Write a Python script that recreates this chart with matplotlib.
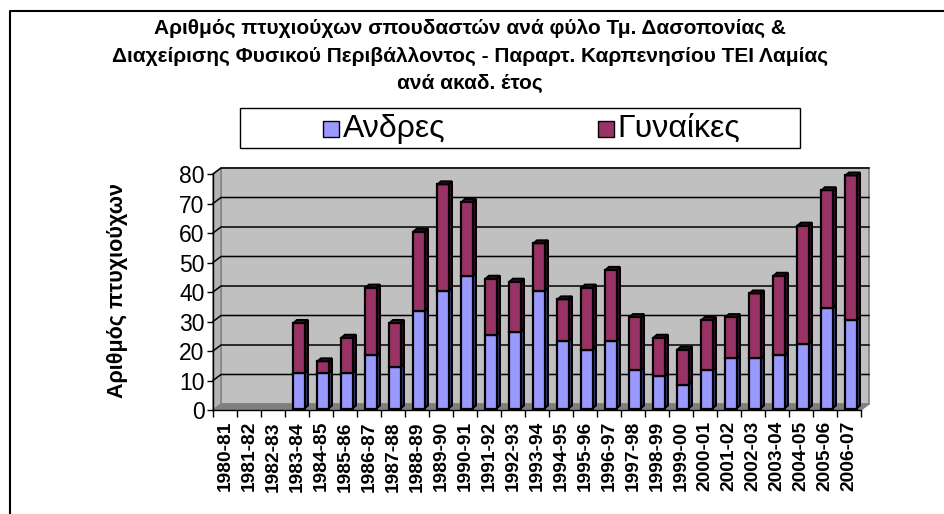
import matplotlib
matplotlib.use("Agg")
import matplotlib.pyplot as plt
from matplotlib.patches import Polygon, Rectangle
from matplotlib.transforms import IdentityTransform, Affine2D
from matplotlib.lines import Line2D

plt.rcParams['font.family'] = ['Liberation Sans', 'DejaVu Sans']

years = ["1980-81", "1981-82", "1982-83", "1983-84", "1984-85", "1985-86", "1986-87",
         "1987-88", "1988-89", "1989-90", "1990-91", "1991-92", "1992-93", "1993-94",
         "1994-95", "1995-96", "1996-97", "1997-98", "1998-99", "1999-00", "2000-01",
         "2001-02", "2002-03", "2003-04", "2004-05", "2005-06", "2006-07"]
andres = [0, 0, 0, 12, 12, 12, 18, 14, 33, 40, 45, 25, 26, 40, 23, 20, 23, 13, 11, 8,
          13, 17, 17, 18, 22, 34, 30]
gynaikes = [0, 0, 0, 17, 4, 12, 23, 15, 27, 36, 25, 19, 17, 16, 14, 21, 24, 18, 13, 12,
            17, 14, 22, 27, 40, 40, 49]
yticks = [0, 10, 20, 30, 40, 50, 60, 70, 80]
series_names = ["Ανδρες", "Γυναίκες"]

title_lines = ["Αριθμός πτυχιούχων σπουδαστών ανά φύλο Τμ. Δασοπονίας &",
               "Διαχείρισης Φυσικού Περιβάλλοντος - Παραρτ. Καρπενησίου ΤΕΙ Λαμίας",
               "ανά ακαδ. έτος"]
ylabel = "Αριθμός πτυχιούχων"

C_MEN = '#9999FF'
C_WOM = '#993366'
C_MEN_SIDE = '#3a3a70'
C_WOM_SIDE = '#3a1026'

W, H = 944, 514
fig = plt.figure(figsize=(W / 100, H / 100), dpi=100)
fig.patch.set_facecolor('white')


def fx(x):
    return x / W


def fy(y):
    return 1 - y / H


ax = fig.add_axes([213 / W, 1 - 410 / H, (861 - 213) / W, (410 - 174) / H])
n = len(years)
ax.set_xlim(0, n)
ax.set_ylim(0, 80)
ax.patch.set_visible(False)
for s in ['top', 'right']:
    ax.spines[s].set_visible(False)
for s in ['left', 'bottom']:
    ax.spines[s].set_color('black')
    ax.spines[s].set_linewidth(1.0)
    ax.spines[s].set_zorder(6)

ax.set_yticks(yticks)
ax.set_yticklabels([str(v) for v in yticks], fontsize=16.5)
ax.tick_params(axis='y', direction='out', length=4, width=1, pad=2)
ax.set_xticks(range(n + 1))
ax.set_xticklabels([])
ax.tick_params(axis='x', which='major', direction='out', length=5, width=1)
ax.set_xticks([i + 0.5 for i in range(n)], minor=True)
ax.set_xticklabels(years, minor=True, rotation=90, fontsize=13.8, fontweight='bold')
ax.tick_params(axis='x', which='minor', length=0, pad=8)

fig.text(fx(118), fy(290), ylabel, rotation=90, ha='center', va='center',
         fontsize=15.5, fontweight='bold')

fig.canvas.draw()
ID = IdentityTransform()
DX, DY = 8, 6  # wall depth in pixels
BDX, BDY = 3.5, 3  # bar depth
BOX, BOY = 2.0, 1.5  # bar front offset


def d2p(x, y):
    return ax.transData.transform((x, y))


def poly(pts, fc, ec='none', lw=0, z=1):
    p = Polygon(pts, closed=True, facecolor=fc, edgecolor=ec, linewidth=lw,
                transform=ID, clip_on=False, zorder=z, joinstyle='miter')
    ax.add_artist(p)
    return p


# back wall
x0, y0 = d2p(0, 0)
x1, y1 = d2p(n, 80)
poly([(x0 + DX, y0 + DY), (x1 + DX, y0 + DY), (x1 + DX, y1 + DY), (x0 + DX, y1 + DY)],
     '#C0C0C0', ec='#808080', lw=1.2, z=0.5)
# side wall
poly([(x0, y0), (x0 + DX, y0 + DY), (x0 + DX, y1 + DY), (x0, y1)], '#B4B4B4',
     ec='#808080', lw=1.0, z=0.6)
# floor
poly([(x0, y0), (x1, y0), (x1 + DX, y0 + DY), (x0 + DX, y0 + DY)], '#808080',
     ec='#808080', lw=1.0, z=0.7)

# gridlines on side wall and back wall
for v in yticks[1:]:
    gx, gy = d2p(0, v)
    ex, _ = d2p(n, v)
    ax.add_artist(Line2D([gx, gx + DX, ex + DX], [gy, gy + DY, gy + DY], color='black',
                         lw=1.1, transform=ID, clip_on=False, zorder=0.8))

# bars
bw = 0.46
shift = Affine2D().translate(BOX, BOY)
for i in range(n):
    base = 0
    segs = [(andres[i], C_MEN, C_MEN_SIDE), (gynaikes[i], C_WOM, C_WOM_SIDE)]
    total = andres[i] + gynaikes[i]
    if total == 0:
        continue
    left = i + 0.5 - bw / 2
    for val, col, scol in segs:
        if val <= 0:
            continue
        ax.bar(left, val, width=bw, bottom=base, align='edge', color=col,
               edgecolor='black', linewidth=1.6, zorder=3, clip_on=False,
               transform=ax.transData + shift)
        sx, sy0 = d2p(left + bw, base)
        _, sy1 = d2p(left + bw, base + val)
        sx += BOX; sy0 += BOY; sy1 += BOY
        poly([(sx, sy0), (sx + BDX, sy0 + BDY), (sx + BDX, sy1 + BDY), (sx, sy1)],
             scol, ec='black', lw=1.4, z=2.9)
        base += val
    lx, ty = d2p(left, total)
    rx, _ = d2p(left + bw, total)
    lx += BOX; rx += BOX; ty += BOY
    poly([(lx, ty), (rx, ty), (rx + BDX, ty + BDY), (lx + BDX, ty + BDY)],
         C_WOM_SIDE, ec='black', lw=1.4, z=3.1)

# title (three centred lines)
for line, yc in zip(title_lines, [28, 56, 83]):
    fig.text(fx(470), fy(yc), line, ha='center', va='center', fontsize=15,
             fontweight='bold')

# legend (drawn as a framed box with swatches)
fig.add_artist(Rectangle((fx(240), fy(148)), (800 - 240) / W, 40 / H,
                         transform=fig.transFigure, facecolor='white',
                         edgecolor='black', linewidth=1.0))
for name, col, mx, tx in [(series_names[0], C_MEN, 323, 343),
                          (series_names[1], C_WOM, 598, 617)]:
    fig.add_artist(Rectangle((fx(mx), fy(137)), 16 / W, 16 / H,
                             transform=fig.transFigure, facecolor=col,
                             edgecolor='black', linewidth=1.0))
    fig.text(fx(tx), fy(129), name, ha='left', va='center', fontsize=23)

# outer border (left and top only visible)
fig.add_artist(Line2D([10 / W, 10 / W, 1.0], [0.0, 1 - 11 / H, 1 - 11 / H],
                      transform=fig.transFigure, color='black', lw=1.5))

fig.savefig('out.png', dpi=100)
